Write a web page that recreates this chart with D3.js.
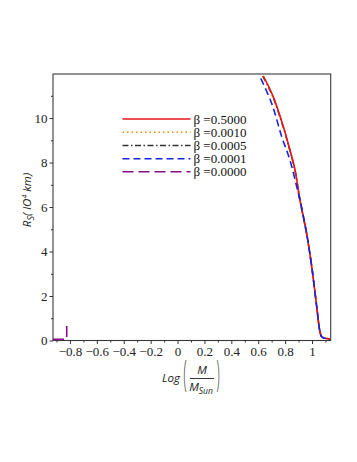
<!DOCTYPE html>
<html>
<head>
<meta charset="utf-8">
<script src="https://cdn.jsdelivr.net/npm/d3@7"></script>
<style>
  body { margin: 0; background: #fff; }
  svg { display: block; }
</style>
</head>
<body>
<div id="viz"></div>
<script>
// beta values of the five curves and their styles in the legend order
var betaLabels = ["0.5000", "0.0010", "0.0005", "0.0001", "0.0000"];
var colors = ["#e8141c", "#ff8a00", "#333333", "#1424e0", "#8a0a8a"];
var dashes = [null, "1.5,3", "6,2.5,1.5,2.5", "7,4", "11,5"];

// curve samples: log(M/Msun) and R_S (10^4 km)
var xRed   = [0.638, 0.712, 0.787, 0.836, 0.874, 0.911, 0.960, 0.998, 1.035, 1.059, 1.072, 1.097, 1.134];
var yRed   = [11.89, 10.96, 9.61, 8.56, 7.66, 6.31, 4.82, 3.32, 1.52, 0.40, 0.17, 0.10, 0.07];
var xOrange = [0.636, 0.710, 0.786, 0.835, 0.873, 0.910, 0.959, 0.998, 1.035, 1.059, 1.072, 1.097, 1.134];
var yOrange = [11.89, 10.96, 9.61, 8.56, 7.66, 6.31, 4.82, 3.32, 1.52, 0.40, 0.17, 0.10, 0.07];
var xBlack = [0.634, 0.709, 0.785, 0.835, 0.873, 0.910, 0.959, 0.998, 1.035, 1.059, 1.072, 1.097, 1.134];
var yBlack = [11.89, 10.96, 9.61, 8.56, 7.66, 6.31, 4.82, 3.32, 1.52, 0.40, 0.17, 0.10, 0.07];
var xBlue  = [0.619, 0.700, 0.775, 0.836, 0.898, 0.911, 0.960, 0.998, 1.035, 1.059, 1.072, 1.097, 1.134];
var yBlue  = [11.78, 10.66, 9.16, 8.11, 6.62, 6.31, 4.82, 3.32, 1.52, 0.40, 0.17, 0.10, 0.07];
var xPurple = [-0.926, -0.824, -0.824];
var yPurple = [0.05, 0.05, 0.77];

var xTicks = [-0.8, -0.6, -0.4, -0.2, 0, 0.2, 0.4, 0.6, 0.8, 1];
var xMinor = [-0.9, -0.7, -0.5, -0.3, -0.1, 0.1, 0.3, 0.5, 0.7, 0.9, 1.1];
var yTicks = [0, 2, 4, 6, 8, 10];
var yMinor = [1, 3, 5, 7, 9, 11];

var SERIF = "'Liberation Serif', 'Times New Roman', serif";
var MATH = "'Open Sans', 'DejaVu Sans', sans-serif";

function main() {
    var W = 357, H = 462;
    var pLeft = 53, pRight = 330.7, pTop = 74, pBottom = 340.5;

    var svg = d3.select("#viz").append("svg")
        .attr("width", W).attr("height", H);

    var x = d3.scaleLinear().domain([-0.926, 1.139]).range([pLeft, pRight]);
    var y = d3.scaleLinear().domain([0, 11.98]).range([pBottom, pTop]);

    var fmt = function(d) { return d == 0 ? "0" : String(d).replace("-", "\u2212"); };

    // frame
    svg.append("rect")
        .attr("x", pLeft).attr("y", pTop)
        .attr("width", pRight - pLeft).attr("height", pBottom - pTop)
        .attr("fill", "none").attr("stroke", "#3a3a3a").attr("stroke-width", 1.1);

    // axes, major and minor ticks pointing out
    svg.append("g").attr("transform", "translate(0," + pBottom + ")")
        .call(d3.axisBottom(x).tickValues(xTicks).tickSize(3.5).tickPadding(3).tickFormat(fmt));
    svg.append("g").attr("transform", "translate(0," + pBottom + ")")
        .call(d3.axisBottom(x).tickValues(xMinor).tickSize(2).tickFormat(""));
    svg.append("g").attr("transform", "translate(" + pLeft + ",0)")
        .call(d3.axisLeft(y).tickValues(yTicks).tickSize(3.5).tickPadding(2).tickFormat(fmt));
    svg.append("g").attr("transform", "translate(" + pLeft + ",0)")
        .call(d3.axisLeft(y).tickValues(yMinor).tickSize(2).tickFormat(""));

    svg.selectAll(".domain").remove();
    svg.selectAll(".tick line").attr("stroke", "#333");
    svg.selectAll(".tick text")
        .attr("font-family", SERIF)
        .attr("font-size", 13).attr("fill", "#222");

    // curves
    svg.append("clipPath").attr("id", "clip")
        .append("rect").attr("x", pLeft).attr("y", pTop)
        .attr("width", pRight - pLeft).attr("height", pBottom - pTop);

    var series = [
        {xs: xBlack, ys: yBlack, k: 2},
        {xs: xOrange, ys: yOrange, k: 1},
        {xs: xRed, ys: yRed, k: 0},
        {xs: xBlue, ys: yBlue, k: 3},
        {xs: xPurple, ys: yPurple, k: 4}
    ];

    var smooth = d3.line()
        .x(function(d) { return x(d[0]); })
        .y(function(d) { return y(d[1]); })
        .curve(d3.curveCatmullRom);
    var straight = d3.line()
        .x(function(d) { return x(d[0]); })
        .y(function(d) { return y(d[1]); });

    var curves = svg.append("g").attr("clip-path", "url(#clip)");
    series.forEach(function(s) {
        var pts = s.xs.map(function(v, i) { return [v, s.ys[i]]; });
        curves.append("path")
            .attr("d", s.k == 4 ? straight(pts) : smooth(pts))
            .attr("fill", "none")
            .attr("stroke", colors[s.k])
            .attr("stroke-width", 1.6)
            .attr("stroke-dasharray", dashes[s.k]);
    });

    // legend
    var legY = [119, 132.3, 145.5, 158.8, 171.8];
    var leg = svg.append("g");
    betaLabels.forEach(function(b, i) {
        leg.append("line")
            .attr("x1", 122.5).attr("x2", 190.5)
            .attr("y1", legY[i]).attr("y2", legY[i])
            .attr("stroke", colors[i]).attr("stroke-width", 1.6)
            .attr("stroke-dasharray", dashes[i]);
        leg.append("text")
            .attr("font-family", SERIF)
            .attr("x", 193.5).attr("y", legY[i] + 4.5)
            .attr("font-size", 13).attr("fill", "#111")
            .text("\u03b2 =" + b);
    });

    // y label
    var yl = svg.append("text")
        .attr("font-family", MATH).attr("font-style", "italic")
        .attr("transform", "translate(31,200) rotate(-90)")
        .attr("text-anchor", "middle")
        .attr("font-size", 11.5).attr("fill", "#222");
    yl.append("tspan").text("R");
    yl.append("tspan").attr("dy", 3).attr("font-size", 9).text("S");
    yl.append("tspan").attr("dy", -3).text("( lO");
    yl.append("tspan").attr("dy", -4).attr("font-size", 7).text("4");
    yl.append("tspan").attr("dy", 4).text(" km)");

    // x label: Log( M / M_Sun )
    var xl = svg.append("g").attr("font-family", MATH).attr("font-style", "italic").attr("fill", "#222");
    xl.append("text").attr("x", 180).attr("y", 382).attr("text-anchor", "end")
        .attr("font-size", 11.5).text("Log");
    [[185, "("], [218, ")"]].forEach(function(p) {
        xl.append("text").attr("x", p[0]).attr("y", 386).attr("text-anchor", "middle")
            .attr("font-style", "normal").attr("font-weight", 300)
            .attr("font-size", 11.5)
            .attr("transform", "translate(" + p[0] + ",386) scale(1,3.2) translate(" + (-p[0]) + ",-386)")
            .text(p[1]);
    });
    xl.append("text").attr("x", 202).attr("y", 374).attr("text-anchor", "middle")
        .attr("font-size", 11.5).text("M");
    xl.append("line").attr("x1", 190).attr("x2", 214).attr("y1", 378.5).attr("y2", 378.5)
        .attr("stroke", "#222").attr("stroke-width", 0.9);
    var ms = xl.append("text").attr("x", 201).attr("y", 391).attr("text-anchor", "middle")
        .attr("font-size", 11.5);
    ms.append("tspan").text("M");
    ms.append("tspan").attr("dy", 3).attr("font-size", 8.5).text("Sun");
}

main();
</script>
</body>
</html>
